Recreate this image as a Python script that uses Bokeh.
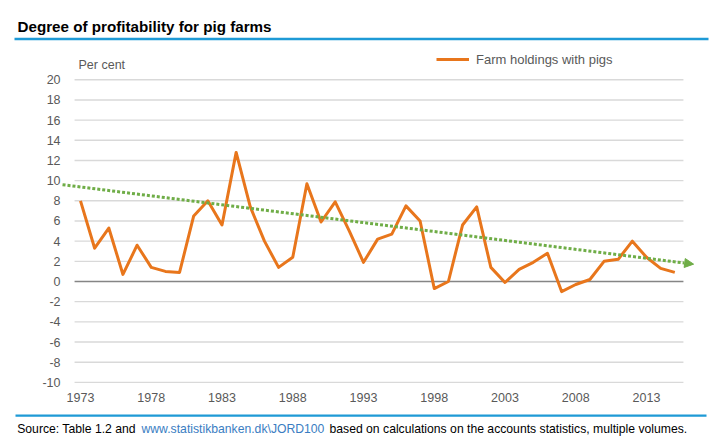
from bokeh.plotting import figure
from bokeh.models import (Range1d, Label, BoxAnnotation, Legend, LegendItem,
                          FixedTicker, Arrow, NormalHead, ColumnDataSource)
from bokeh.embed import file_html
from bokeh.resources import INLINE

# ---------------- data ----------------
years = list(range(1973, 2016))
profit = [8.0, 3.3, 5.3, 0.7, 3.6, 1.4, 1.0, 0.9, 6.5, 8.0,
          5.6, 12.8, 7.4, 4.0, 1.4, 2.4, 9.7, 5.9, 7.9, 5.0,
          1.9, 4.2, 4.7, 7.5, 6.0, -0.7, 0.0, 5.6, 7.4, 1.4,
          -0.1, 1.2, 1.9, 2.8, -1.0, -0.3, 0.2, 2.0, 2.2, 4.0,
          2.4, 1.3, 0.9]
trend_x = [1971.73, 2016.33]
trend_y = [9.6, 1.72]
y_ticks = list(range(-10, 21, 2))
y_tick_labels = [str(t) for t in y_ticks]
x_ticks = [1973, 1978, 1983, 1988, 1993, 1998, 2003, 2008, 2013]
grid_x = [1972.58, 2015.61]

title_text = "Degree of profitability for pig farms"
unit_text = "Per cent"
series_name = "Farm holdings with pigs"
src_parts = ["Source: Table 1.2 and",
             "www.statistikbanken.dk\\JORD100",
             "based on calculations on the accounts statistics, multiple volumes."]

ORANGE = "#E8761C"
GREEN = "#6FAD47"
BLUE = "#1E9AD6"
GREY_TXT = "#595959"
FONT = "Liberation Sans, Arial, sans-serif"

W, H = 716, 440

# the frame covers the whole canvas; the axes sit at fixed positions inside it
p = figure(width=W, height=H, output_backend="svg", toolbar_location=None,
           x_range=Range1d(1967.346, 2017.947), y_range=Range1d(-15.766, 27.863),
           min_border=0)
p.outline_line_color = None
p.background_fill_color = "white"
p.border_fill_color = "white"
p.xgrid.visible = False
p.ygrid.visible = False

p.yaxis.ticker = FixedTicker(ticks=y_ticks)
p.yaxis.major_label_overrides = dict(zip(y_ticks, y_tick_labels))
p.xaxis.ticker = FixedTicker(ticks=x_ticks)
for ax in (p.xaxis, p.yaxis):
    ax.axis_line_color = None
    ax.major_tick_line_color = None
    ax.minor_tick_line_color = None
    ax.major_tick_out = 0
    ax.major_tick_in = 0
    ax.major_label_text_color = GREY_TXT
    ax.major_label_text_font = FONT
    ax.major_label_text_font_size = "12.5px"
p.yaxis.fixed_location = 1971.73
p.xaxis.fixed_location = -10.41
p.yaxis.major_label_standoff = 2
p.xaxis.major_label_standoff = 7

# gridlines
nonzero = [t for t in y_ticks if t != 0]
p.segment(x0=[grid_x[0]] * len(nonzero), x1=[grid_x[1]] * len(nonzero),
          y0=nonzero, y1=nonzero, line_color="#D9D9D9", line_width=1.4)
p.segment(x0=[grid_x[0]], x1=[grid_x[1]], y0=[0], y1=[0],
          line_color="#858585", line_width=1.6)

# series
src = ColumnDataSource(dict(x=years, y=profit))
r_line = p.line("x", "y", source=src, line_color=ORANGE, line_width=3,
                line_join="round")

# dotted trend with arrow head
frac = 0.985
tx_end = trend_x[0] + (trend_x[1] - trend_x[0]) * frac
ty_end = trend_y[0] + (trend_y[1] - trend_y[0]) * frac
p.line([trend_x[0], tx_end], [trend_y[0], ty_end], line_color=GREEN,
       line_width=3, line_dash="3 2")
p.add_layout(Arrow(end=NormalHead(size=9, fill_color=GREEN, line_color=GREEN),
                   x_start=tx_end, y_start=ty_end,
                   x_end=trend_x[1], y_end=trend_y[1], line_alpha=0))

# legend
legend = Legend(items=[LegendItem(label=series_name, renderers=[r_line])],
                location=(436, 371), orientation="horizontal",
                glyph_width=33, glyph_height=20, label_standoff=7,
                padding=0, margin=0, border_line_alpha=0,
                background_fill_alpha=0,
                label_text_font=FONT, label_text_font_size="13px",
                label_text_color=GREY_TXT)
p.add_layout(legend, "center")


def lab(text, x, y, size, color, style="normal", baseline="middle"):
    p.add_layout(Label(x=x, y=y, x_units="screen", y_units="screen", text=text,
                       text_font_size=size, text_color=color, text_font=FONT,
                       text_font_style=style, text_baseline=baseline))


def rule(left, right, bottom, top):
    p.add_layout(BoxAnnotation(left=left, right=right, bottom=bottom, top=top,
                               left_units="screen", right_units="screen",
                               top_units="screen", bottom_units="screen",
                               fill_color=BLUE, fill_alpha=1, line_alpha=0,
                               level="overlay"))


# header
lab(title_text, 17, 414.5, "15.2px", "black", "bold", "alphabetic")
rule(14, 708, 400.2, 402.7)
lab(unit_text, 78, 376, "12.5px", GREY_TXT)

# footer
rule(15, 706, 23.8, 26.0)
lab(src_parts[0], 16.7, 12, "12.2px", "black")
lab(src_parts[1], 141, 12, "12.2px", "#3A7DC2")
lab(src_parts[2], 329, 12, "12.2px", "black")

open("out.html", "w").write(file_html(p, INLINE))
